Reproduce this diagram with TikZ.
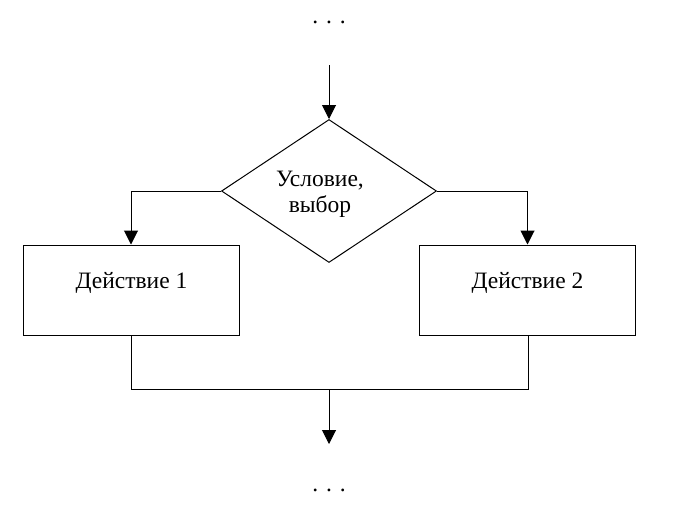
\documentclass[tikz,border=0pt]{standalone}
\usepackage{fontspec}
\setmainfont{Liberation Serif}
\usetikzlibrary{shapes.geometric,arrows.meta}
\begin{document}
\begin{tikzpicture}[x=1pt,y=-1pt,
  line/.style={draw=black,line width=1pt},
  arr/.style={line,-{Triangle[length=14pt,width=14pt]}},
  actbox/.style={draw=black,line width=1pt,minimum width=216pt,minimum height=90pt,inner sep=0pt},
  cond/.style={draw=black,line width=1pt,diamond,minimum width=215pt,minimum height=143pt,inner sep=0pt,aspect=1.5},
  txt/.style={font=\fontsize{23.5}{26}\selectfont,inner sep=0pt,align=center,anchor=base}
]
\useasboundingbox[fill=white] (0,0) rectangle (679,520);
% top dots
\node[txt] (dtop) at (329,23) {.\,\,.\,\,.};
\coordinate (s0) at (329,65);
% decision
\node[cond] (dec) at (329,191) {};
\node[txt] (dect) at (320,212) {Условие,\\выбор};
% boxes
\node[actbox] (b1) at (131,290) {};
\node[actbox] (b2) at (527.5,290) {};
\node[txt] (t1) at (131.5,288) {Действие 1};
\node[txt] (t2) at (527.5,288) {Действие 2};
% connectors
\draw[arr] (s0) -- (dec.north);
\draw[arr] (dec.west) -| (b1.north);
\draw[arr] (dec.east) -| (b2.north);
\coordinate (j1) at (131,389);
\coordinate (j2) at (528,389);
\coordinate (jm) at (329,389);
\coordinate (e0) at (329,444);
\draw[line] (b1.south) -- (j1) -- (j2) -- (b2.south -| j2);
\draw[arr] (jm) -- (e0);
\node[txt] (dbot) at (329,491) {.\,\,.\,\,.};
\end{tikzpicture}
\end{document}
